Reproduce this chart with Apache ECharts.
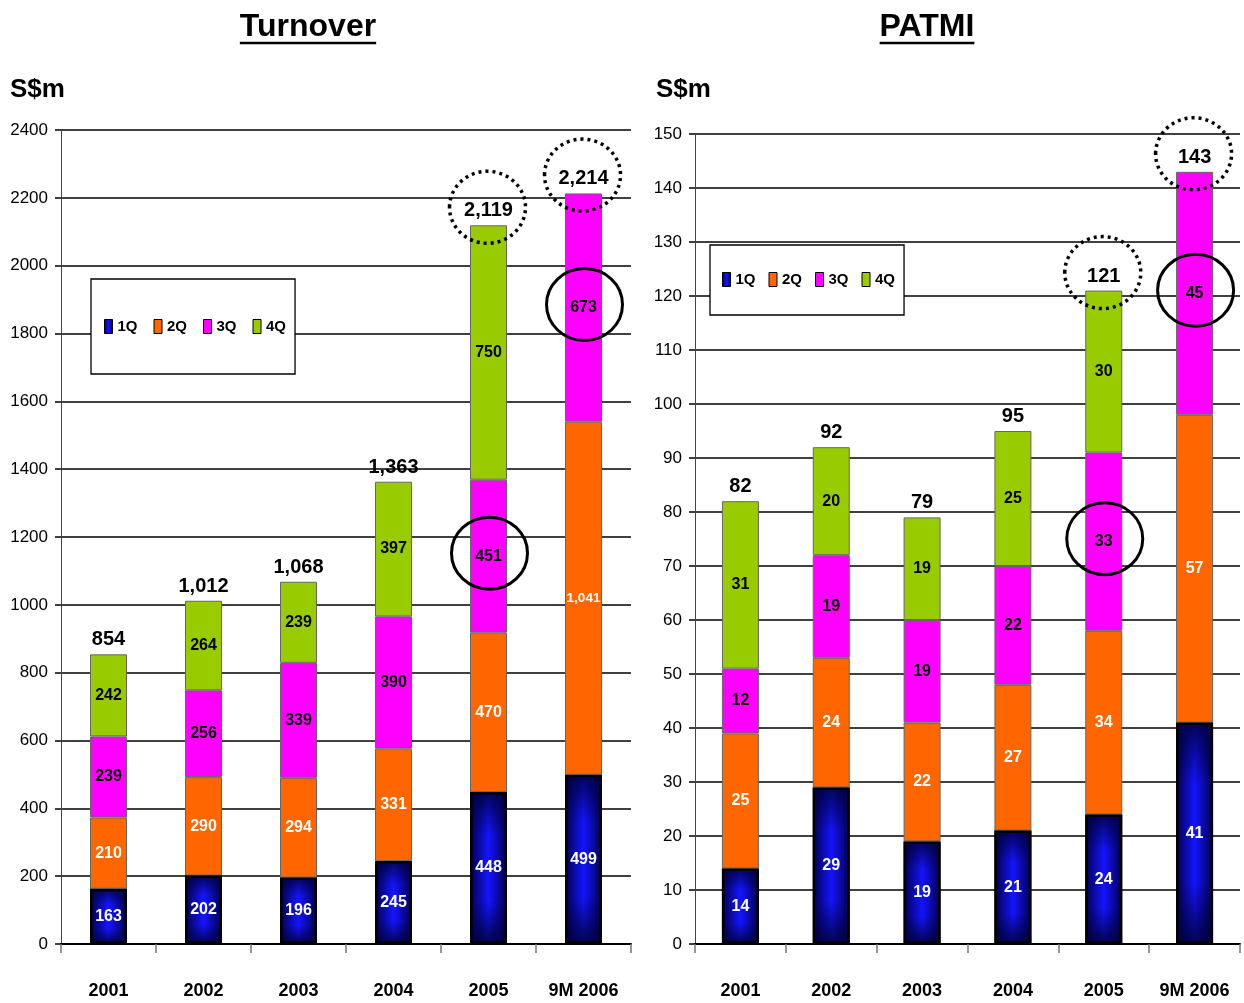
<!DOCTYPE html>
<html>
<head>
<meta charset="utf-8">
<title>Turnover and PATMI</title>
<script src="https://cdn.jsdelivr.net/npm/echarts@6/dist/echarts.min.js"></script>
<style>
  html, body { margin: 0; padding: 0; background: #fff; }
  #chart { width: 1244px; height: 1003px; }
</style>
</head>
<body>
<div id="chart"></div>
<script>
// Categories
const YEARS = ['2001', '2002', '2003', '2004', '2005', '9M 2006'];
const QUARTERS = ['1Q', '2Q', '3Q', '4Q'];

// Turnover, S$m, by quarter
const TURNOVER_1Q = [163, 202, 196, 245, 448, 499];
const TURNOVER_2Q = [210, 290, 294, 331, 470, 1041];
const TURNOVER_3Q = [239, 256, 339, 390, 451, 673];
const TURNOVER_4Q = [242, 264, 239, 397, 750, null];
const TURNOVER_TOTAL = [854, 1012, 1068, 1363, 2119, 2214];

// PATMI, S$m, by quarter
const PATMI_1Q = [14, 29, 19, 21, 24, 41];
const PATMI_2Q = [25, 24, 22, 27, 34, 57];
const PATMI_3Q = [12, 19, 19, 22, 33, 45];
const PATMI_4Q = [31, 20, 19, 25, 30, null];
const PATMI_TOTAL = [82, 92, 79, 95, 121, 143];

// Value axis ranges: min, max, step
const TURNOVER_AXIS = [0, 2400, 200];
const PATMI_AXIS = [0, 150, 10];

const NARROW = '"Liberation Sans Narrow", "Arial Narrow", "Liberation Sans", Arial, sans-serif';
const SANS = '"Liberation Sans", Arial, sans-serif';

const fmt = v => (v == null ? '' : Number(v).toLocaleString('en-US'));

const C_2Q = '#ff6600';
const C_3Q = '#ff00ff';
const C_4Q = '#99cc00';
const blueBase = new echarts.graphic.LinearGradient(0, 0, 1, 0, [
  { offset: 0, color: '#00004a' },
  { offset: 0.5, color: '#1414ff' },
  { offset: 1, color: '#00004a' }
]);
const blueShade = new echarts.graphic.LinearGradient(0, 0, 0, 1, [
  { offset: 0, color: 'rgba(0,0,60,0.85)' },
  { offset: 0.28, color: 'rgba(0,0,60,0)' },
  { offset: 0.72, color: 'rgba(0,0,60,0)' },
  { offset: 1, color: 'rgba(0,0,60,0.9)' }
]);

function segLabel(color) {
  return {
    show: true,
    position: 'inside',
    color: color,
    textBorderWidth: 0,
    fontFamily: NARROW,
    fontWeight: 'bold',
    fontSize: 16,
    // long figures get a slightly smaller face so they stay inside the bar
    formatter: p => {
      const s = fmt(p.value);
      return s.length > 4 ? '{s|' + s + '}' : s;
    },
    rich: { s: { fontSize: 13.5, fontFamily: NARROW, fontWeight: 'bold', color: color } }
  };
}

function buildSeries(gi, q1, q2, q3, q4, total) {
  const common = {
    type: 'bar', xAxisIndex: gi, yAxisIndex: gi, barWidth: 37, barGap: '-100%'
  };
  const edge = { borderColor: '#666', borderWidth: 1 };
  return [
    Object.assign({}, common, {
      name: '1Q', stack: 'q' + gi, data: q1,
      itemStyle: { color: blueBase, borderColor: '#000', borderWidth: 2 },
      label: { show: false }
    }),
    Object.assign({}, common, {
      name: '2Q', stack: 'q' + gi, data: q2,
      itemStyle: Object.assign({ color: C_2Q }, edge),
      label: segLabel('#fff')
    }),
    Object.assign({}, common, {
      name: '3Q', stack: 'q' + gi, data: q3,
      itemStyle: Object.assign({ color: C_3Q }, edge),
      label: segLabel('#000')
    }),
    Object.assign({}, common, {
      name: '4Q', stack: 'q' + gi, data: q4,
      itemStyle: Object.assign({ color: C_4Q }, edge),
      label: segLabel('#000')
    }),
    // shading and outline over the first-quarter block
    Object.assign({}, common, {
      name: '1Q shade', data: q1, z: 3,
      itemStyle: { color: blueShade, borderColor: '#000', borderWidth: 2.5 },
      label: segLabel('#fff')
    }),
    {
      name: 'Total', type: 'scatter', xAxisIndex: gi, yAxisIndex: gi, z: 5,
      data: total, symbolSize: 1, itemStyle: { color: '#fff', opacity: 0 },
      label: {
        show: true, position: 'top', distance: 4, opacity: 1,
        fontFamily: NARROW, fontWeight: 'bold', fontSize: 20, color: '#000', textBorderWidth: 0,
        formatter: p => fmt(p.value)
      }
    }
  ];
}

function catAxis(gi) {
  return {
    type: 'category', gridIndex: gi, data: YEARS,
    axisLine: { lineStyle: { color: '#000', width: 2 } },
    axisTick: { show: true, alignWithLabel: false, length: 9, lineStyle: { color: '#777', width: 1.5 } },
    axisLabel: { interval: 0, color: '#000', fontFamily: NARROW, fontWeight: 'bold', fontSize: 18, margin: 38 }
  };
}

function valAxis(gi, range) {
  return {
    type: 'value', gridIndex: gi, min: range[0], max: range[1], interval: range[2],
    axisLine: { show: true, lineStyle: { color: '#444', width: 1 } },
    axisTick: { show: true, length: 6, lineStyle: { color: '#000', width: 1.5 } },
    splitLine: { lineStyle: { color: '#000', width: 1.5 } },
    axisLabel: { color: '#000', fontFamily: NARROW, fontSize: 17, margin: 13, formatter: v => String(v) }
  };
}

function legendBox(left, top, pad, gap) {
  return {
    left: left, top: top, orient: 'horizontal', data: QUARTERS, icon: 'rect',
    selectedMode: false, padding: pad, itemGap: gap, itemWidth: 8, itemHeight: 14,
    borderColor: '#000', borderWidth: 1.3, backgroundColor: '#fff',
    itemStyle: { borderColor: '#000', borderWidth: 1 },
    textStyle: { color: '#000', fontFamily: NARROW, fontWeight: 'bold', fontSize: 15 }
  };
}

const chart = echarts.init(document.getElementById('chart'), null, { renderer: 'canvas' });

chart.setOption({
  animation: false,
  backgroundColor: '#fff',
  grid: [
    { left: 61, top: 130, width: 570, height: 814, outerBoundsMode: 'none', containLabel: false },
    { left: 695, top: 134, width: 545, height: 810, outerBoundsMode: 'none', containLabel: false }
  ],
  xAxis: [catAxis(0), catAxis(1)],
  yAxis: [valAxis(0, TURNOVER_AXIS), valAxis(1, PATMI_AXIS)],
  legend: [
    legendBox(91, 279, [40, 9, 40, 13], 16),
    legendBox(710, 245, [27, 9, 28, 12], 13)
  ],
  series: buildSeries(0, TURNOVER_1Q, TURNOVER_2Q, TURNOVER_3Q, TURNOVER_4Q, TURNOVER_TOTAL)
    .concat(buildSeries(1, PATMI_1Q, PATMI_2Q, PATMI_3Q, PATMI_4Q, PATMI_TOTAL))
});

// Headings, unit captions and highlight rings
const measure = document.createElement('canvas').getContext('2d');
function heading(text, cx) {
  const font = 'bold 32px ' + SANS;
  measure.font = font;
  const w = measure.measureText(text).width;
  return [
    { type: 'text', x: cx, y: 27, z: 10,
      style: { text: text, font: font, fill: '#000', textAlign: 'center', textVerticalAlign: 'middle' } },
    { type: 'line', z: 10,
      shape: { x1: cx - w / 2, y1: 43, x2: cx + w / 2, y2: 43 },
      style: { stroke: '#000', lineWidth: 2.5 } }
  ];
}
function caption(text, x) {
  return { type: 'text', x: x, y: 90, z: 10,
    style: { text: text, font: 'bold 26px ' + SANS, fill: '#000', textAlign: 'left', textVerticalAlign: 'middle' } };
}

const sets = [
  { q1: TURNOVER_1Q, q2: TURNOVER_2Q, q3: TURNOVER_3Q, total: TURNOVER_TOTAL },
  { q1: PATMI_1Q, q2: PATMI_2Q, q3: PATMI_3Q, total: PATMI_TOTAL }
];
const highlighted = [4, 5]; // 2005 and 9M 2006

const rings = [];
sets.forEach((s, gi) => {
  highlighted.forEach(ci => {
    // dotted ring around the total
    const top = chart.convertToPixel({ gridIndex: gi }, [ci, s.total[ci]]);
    rings.push({
      type: 'ellipse', z: 20,
      shape: { cx: top[0] - 1, cy: top[1] - 18, rx: 38, ry: 36 },
      style: { fill: null, stroke: '#000', lineWidth: 3.5, lineDash: [3, 4] }
    });
    // solid ring around the third-quarter figure
    const mid = s.q1[ci] + s.q2[ci] + s.q3[ci] / 2;
    const p = chart.convertToPixel({ gridIndex: gi }, [ci, mid]);
    rings.push({
      type: 'ellipse', z: 20,
      shape: { cx: p[0] + 1, cy: p[1] - 3, rx: 38, ry: 36 },
      style: { fill: null, stroke: '#000', lineWidth: 3 }
    });
  });
});

chart.setOption({
  graphic: heading('Turnover', 308)
    .concat(heading('PATMI', 927))
    .concat([caption('S$m', 10), caption('S$m', 656)])
    .concat(rings)
});
</script>
</body>
</html>
